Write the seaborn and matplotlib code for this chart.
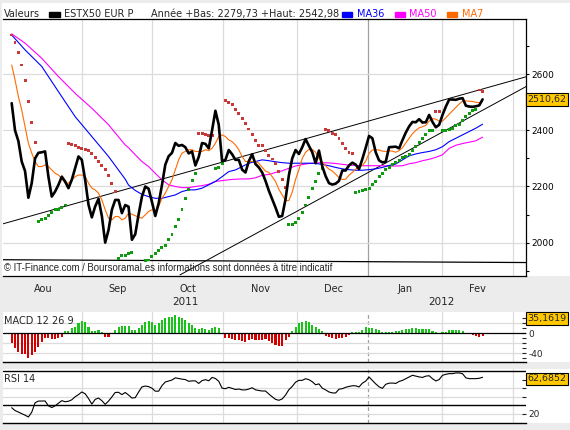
import numpy as np
import pandas as pd
import matplotlib
matplotlib.use("Agg")
import matplotlib.pyplot as plt
import matplotlib.transforms as mtransforms
from matplotlib.patches import Rectangle
import seaborn as sns

# ESTX50 daily close, Aug 2011 -> Feb 2012 (one value per trading day)
close = [2497, 2400, 2362, 2289, 2255, 2160, 2212, 2300, 2320, 2322,
         2325, 2235, 2164, 2182, 2206, 2235, 2218, 2194, 2224, 2265,
         2307, 2295, 2224, 2135, 2090, 2129, 2156, 2095, 2000, 2045,
         2117, 2152, 2152, 2105, 2134, 2128, 2010, 2030, 2100, 2164,
         2200, 2192, 2145, 2095, 2140, 2205, 2278, 2308, 2320, 2355,
         2345, 2348, 2340, 2318, 2325, 2275, 2305, 2355, 2352, 2336,
         2400, 2470, 2420, 2290, 2295, 2330, 2315, 2295, 2295, 2260,
         2250, 2290, 2315, 2280, 2268, 2250, 2220, 2185, 2155, 2125,
         2092, 2095, 2155, 2240, 2300, 2330, 2316, 2340, 2369, 2345,
         2322, 2283, 2328, 2272, 2237, 2212, 2207, 2210, 2220, 2257,
         2257, 2275, 2285, 2278, 2262, 2298, 2338, 2380, 2372, 2322,
         2293, 2286, 2288, 2340, 2341, 2342, 2336, 2365, 2392, 2414,
         2430, 2429, 2440, 2428, 2429, 2455, 2430, 2411, 2420, 2455,
         2485, 2510, 2510, 2509, 2513, 2515, 2488, 2485, 2484, 2486,
         2489, 2510.62]

ma7 = [2633, 2580, 2521, 2473, 2414, 2354, 2319, 2289, 2271, 2271,
       2277, 2271, 2259, 2247, 2241, 2229, 2212, 2212, 2224, 2235,
       2241, 2241, 2235, 2212, 2194, 2188, 2176, 2152, 2117, 2087,
       2081, 2093, 2093, 2081, 2087, 2105, 2101, 2096, 2090, 2087,
       2099, 2111, 2117, 2114, 2129, 2158, 2176, 2200, 2224, 2259,
       2295, 2319, 2325, 2331, 2331, 2325, 2325, 2325, 2331, 2328,
       2336, 2354, 2378, 2384, 2378, 2366, 2360, 2348, 2331, 2307,
       2289, 2289, 2289, 2289, 2283, 2268, 2255, 2250, 2235, 2218,
       2190, 2170, 2150, 2150, 2180, 2225, 2260, 2300, 2322, 2332,
       2332, 2322, 2300, 2287, 2274, 2262, 2255, 2244, 2232, 2225,
       2226, 2240, 2250, 2262, 2270, 2275, 2290, 2318, 2330, 2331,
       2330, 2326, 2325, 2327, 2326, 2322, 2328, 2338, 2355, 2372,
       2388, 2400, 2409, 2413, 2418, 2433, 2442, 2440, 2433, 2433,
       2445, 2458, 2470, 2482, 2494, 2504, 2505, 2504, 2503, 2500,
       2499, 2503]

ma_days = [0, 4, 9, 14, 19, 24, 29, 34] + list(range(35, 142, 2))
ma36 = [2740, 2687, 2628, 2538, 2449, 2378, 2307, 2226,
        2205, 2186, 2172, 2164, 2158, 2158, 2164, 2170, 2182, 2188,
        2188, 2194, 2206, 2218, 2235, 2253, 2259, 2271, 2283, 2289,
        2295, 2292, 2288, 2285, 2283, 2283, 2283, 2283, 2282, 2279,
        2274, 2268, 2263, 2260, 2258, 2258, 2260, 2263, 2268, 2275,
        2280, 2295, 2309, 2316, 2321, 2325, 2331, 2342, 2360, 2372,
        2384, 2396, 2408, 2422]
ma50 = [2744, 2711, 2657, 2592, 2532, 2479, 2420, 2348,
        2338, 2313, 2289, 2271, 2247, 2224, 2206, 2200, 2196, 2196,
        2200, 2203, 2208, 2218, 2221, 2224, 2226, 2227, 2227, 2231,
        2240, 2243, 2250, 2256, 2265, 2273, 2278, 2282, 2284, 2285,
        2284, 2282, 2279, 2276, 2275, 2274, 2274, 2274, 2274, 2273,
        2273, 2274, 2281, 2285, 2292, 2297, 2304, 2313, 2336, 2347,
        2353, 2358, 2363, 2376]

# parabolic SAR, R = above price (red), G = below price (green)
nan = np.nan
sar = [2740, 2713, 2679, 2633, 2577, 2502, 2429, 2358,
       2075, 2081, 2087, 2095, 2107, 2117, 2117, 2126, 2134,
       2354, 2350, 2345, 2340, 2336, 2333, 2328, 2319, 2304, 2289, 2275, 2259, 2239, 2212, 2182,
       1944, 1953, 1955, 1960, 1966,
       nan, nan, nan,
       1936, 1938, 1950, 1962, 1972, 1983, 1991, 2010, 2030, 2057, 2083, 2119, 2158, 2188, 2221, 2247,
       2390, 2390, 2386, 2382, 2382,
       2265, 2269, 2281,
       2505, 2500, 2491, 2475, 2461, 2441, 2426, 2405, 2384, 2364,
       2345, 2345, 2327, 2310, 2298, 2281, 2253, 2226, 2197,
       2063, 2063, 2071, 2087, 2108, 2134, 2162, 2194, 2218, 2245, 2265,
       2402, 2398, 2390, 2384, 2372, 2354, 2336, 2321, 2319,
       2180, 2182, 2186, 2188, 2194, 2206, 2218, 2235, 2247, 2259, 2269, 2277,
       2285, 2292, 2303, 2307, 2313, 2327, 2342, 2357, 2372, 2386, 2398, 2398,
       2466, 2466,
       2398, 2398, 2402, 2408, 2416, 2422, 2434, 2449, 2459, 2471, 2475,
       2544, 2540]
sar_runs = [("R", 8), ("G", 9), ("R", 15), ("G", 5), ("-", 3), ("G", 16), ("R", 5),
            ("G", 3), ("R", 19), ("G", 11), ("R", 9), ("G", 24), ("R", 2),
            ("G", 11), ("R", 2)]

macd_hist = [-20, -30, -37, -42, -42, -50, -43, -37, -27, -17,
             -10, -10, -12, -12, -9, -7, 5, 5, 10, 13,
             20, 25, 22, 13, 5, 5, 7, 3, -7, -7,
             -2, 7, 13, 15, 15, 15, 7, 7, 10, 17,
             23, 25, 23, 17, 20, 27, 30, 32, 33, 37,
             33, 30, 27, 20, 17, 10, 9, 10, 8, 7,
             10, 13, 11, -2, -9, -10, -12, -13, -13, -15,
             -18, -13, -12, -13, -13, -13, -12, -15, -20, -23,
             -25, -25, -13, -7, 5, 13, 20, 23, 25, 22,
             17, 13, 9, 5, -5, -7, -10, -11, -10, -9,
             -7, -3, 2, 2, 3, 6, 13, 11, 10, 9,
             7, 2, 3, 3, 3, 5, 5, 7, 8, 9,
             10, 10, 9, 8, 8, 9, 5, 3, 1, 3,
             3, 7, 7, 7, 7, 5, 0, -2, -3, -5,
             -7, -5]

rsi = [27.3, 24.0, 22.2, 20.3, 18.6, 16.5, 22.0, 33.0, 35.0, 35.1,
       35.1, 29.5, 27.5, 29.5, 32.5, 35.5, 34.2, 34.8, 36.5, 40.0,
       42.5, 45.6, 43.5, 38.0, 31.5, 37.0, 38.5, 35.5, 31.2, 35.0,
       39.8, 45.0, 45.2, 42.5, 45.0, 42.0, 38.5, 39.0, 45.5, 51.5,
       52.5, 51.8, 50.0, 46.5, 46.5, 53.0, 57.2, 58.3, 59.5, 62.0,
       61.2, 60.5, 60.0, 58.0, 58.5, 58.5, 55.5, 58.8, 59.9, 58.6,
       62.5, 61.3, 58.0, 50.0, 49.4, 51.0, 49.8, 48.5, 49.0, 48.0,
       48.0, 49.0, 50.5, 48.1, 47.3, 46.7, 46.7, 43.2, 40.0, 37.0,
       35.9, 37.5, 42.0, 48.3, 52.0, 57.0, 59.1, 59.1, 61.0, 59.9,
       57.5, 54.0, 55.0, 50.0, 48.0, 45.6, 44.5, 44.4, 48.8, 49.4,
       51.0, 52.0, 52.8, 52.8, 51.4, 55.8, 58.2, 63.0, 59.0, 55.0,
       51.6, 49.8, 54.5, 55.8, 56.0, 55.5, 57.8, 59.0, 61.0, 63.0,
       65.0, 64.0, 63.1, 62.5, 64.0, 64.5, 61.0, 58.4, 60.0, 65.0,
       66.1, 66.9, 66.9, 67.7, 67.7, 66.8, 62.0, 61.1, 61.1, 61.1,
       61.5, 62.7]

# hand drawn trend lines (day, value at both ends)
trend_days = [-2.6, 154.0]
upper_trend = [2067, 2591]
floor_trend = [1939, 1929]
lower_days = [50.4, 154.0]
lower_trend = [1885, 2556]

months = ["Aou", "Sep", "Oct", "Nov", "Dec", "Jan", "Fev"]
month_mid = [9.5, 31.6, 52.8, 74.6, 96.3, 117.8, 139.5]
month_edge = [21.05, 42.0, 63.3, 85.4, 106.7, 128.8, 150.1]
years = ["2011", "2012"]
year_pos = [51.9, 128.7]

last_close = "2510,62"
last_macd = "35,1619"
last_rsi = "62,6852"

# ---------------------------------------------------------------
sns.set_style("white")
plt.rcParams["font.family"] = ["DejaVu Sans"]

W, H = 570, 430
fig = plt.figure(figsize=(W / 100, H / 100), dpi=100, facecolor="#ececec")


def fx(px):
    return px / W


def fy(py):
    return 1 - py / H


def white_box(x0, y0, x1, y1):
    fig.patches.append(Rectangle((fx(x0), fy(y1)), (x1 - x0) / W, (y1 - y0) / H,
                                 transform=fig.transFigure, facecolor="white",
                                 edgecolor="none", zorder=-5))


white_box(2, 3, 570, 276)
white_box(3, 312, 570, 362)
white_box(3, 369, 570, 423)

main = fig.add_axes([fx(3), fy(276), 523 / W, 257 / H])
macd_ax = fig.add_axes([fx(3), fy(362), 523 / W, 50 / H])
rsi_ax = fig.add_axes([fx(3), fy(423), 523 / W, 54 / H])

XL = (-2.6, 154.0)
grid_c = "#dcdcdc"
days = np.arange(len(close))

for ax in (main, macd_ax, rsi_ax):
    ax.set_xlim(*XL)
    ax.set_facecolor("white")
    for s in ax.spines.values():
        s.set_visible(False)
    for k, e in enumerate(month_edge):
        if k == 4:
            ax.axvline(e, color="#a0a0a0", lw=0.9, zorder=0,
                       ls="-" if ax is main else (0, (3, 2)))
        else:
            ax.axvline(e, color=grid_c, lw=0.9, zorder=0)

# ---------------- main price panel ----------------
main.set_ylim(1881, 2797)
for v in [2000, 2200, 2400, 2600]:
    main.axhline(v, color=grid_c, lw=0.9, zorder=0)

main.plot(trend_days, upper_trend, color="black", lw=0.7, zorder=2)
main.plot(trend_days, floor_trend, color="black", lw=0.9, zorder=2)
main.plot(lower_days, lower_trend, color="black", lw=0.7, zorder=2)

sns.lineplot(x=ma_days, y=ma50, ax=main, color="#ff00ff", lw=0.8, zorder=3)
sns.lineplot(x=ma_days, y=ma36, ax=main, color="#0000ff", lw=0.8, zorder=3)
sns.lineplot(x=days, y=ma7, ax=main, color="#ff6a00", lw=0.8, zorder=3)

side = [c for c, n in sar_runs for _ in range(n)]
sar_df = pd.DataFrame({"day": list(range(len(sar))), "sar": sar})
sar_df["side"] = (side + ["-"] * len(sar))[:len(sar)]
sar_df = sar_df[sar_df["side"] != "-"].dropna()
sns.scatterplot(data=sar_df, x="day", y="sar", hue="side", ax=main,
                palette={"R": "#c83a3a", "G": "#109a10"}, marker="s", s=4.5,
                linewidth=0, legend=False, zorder=4)

sns.lineplot(x=days, y=close, ax=main, color="black", lw=1.9, zorder=5)

for s in ("top", "right", "bottom"):
    main.spines[s].set_visible(True)
    main.spines[s].set_color("black")
    main.spines[s].set_linewidth(0.9)

main.yaxis.tick_right()
main.set_yticks([2000, 2200, 2400, 2600])
main.set_yticklabels(["2000", "2200", "2400", "2600"])
main.set_yticks([1900, 2100, 2300, 2500, 2700], minor=True)
main.tick_params(axis="y", which="both", direction="out", length=2.5,
                 width=0.8, pad=1, labelsize=6.5, colors="black")
main.set_xticks(month_edge)
main.set_xticklabels([])
main.set_xticks(month_mid, minor=True)
main.set_xticklabels(months, minor=True)
main.tick_params(axis="x", which="major", direction="out", length=3, width=0.8)
main.tick_params(axis="x", which="minor", length=0, pad=6, labelsize=7)
main.set_xlabel("")
main.set_ylabel("")

yr_tr = mtransforms.blended_transform_factory(main.transData, fig.transFigure)
for yl, xp in zip(years, year_pos):
    main.text(xp, fy(302), yl, transform=yr_tr, ha="center", va="center",
              fontsize=7.5, clip_on=False)

side_tr = mtransforms.blended_transform_factory(main.transAxes, main.transData)
main.text(1.003, 2510.62, last_close, transform=side_tr, ha="left", va="center",
          fontsize=6.8, clip_on=False,
          bbox=dict(boxstyle="square,pad=0.18", fc="#ffc800", ec="black", lw=0.8))

fig.text(fx(4), fy(268), "\u00a9 IT-Finance.com / BoursoramaLes informations sont donn\u00e9es \u00e0 titre indicatif",
         fontsize=6.9, family="Liberation Sans", va="center", ha="left")

# header line
fig.text(fx(4), fy(14), "Valeurs", fontsize=7, va="center")
fig.patches.append(Rectangle((fx(49), fy(16.7)), 11 / W, 4.5 / H,
                             transform=fig.transFigure, color="black"))
fig.text(fx(64), fy(14), "ESTX50 EUR P", fontsize=7, va="center")
fig.text(fx(150.7), fy(14), "Ann\u00e9e +Bas: 2279,73 +Haut: 2542,98", fontsize=7, va="center")
for x0, name, col, tx in [(341.7, "MA36", "#0000ff", 356.7),
                          (395.0, "MA50", "#ff00ff", 409.3),
                          (446.7, "MA7", "#ff6a00", 461.7)]:
    fig.patches.append(Rectangle((fx(x0), fy(16.7)), 10.5 / W, 4.5 / H,
                                 transform=fig.transFigure, color=col))
    fig.text(fx(tx), fy(14), name, fontsize=7, va="center", color=col)

# ---------------- MACD panel ----------------
bar_cols = ["#19c319" if v >= 0 else "#d40000" for v in macd_hist]
macd_ax.bar(np.arange(len(macd_hist)), macd_hist, width=0.62, color=bar_cols,
            linewidth=0, edgecolor="none", zorder=2)
macd_ax.set_ylim(-57.4, 42.6)
for v in [20, -20, -40]:
    macd_ax.axhline(v, color=grid_c, lw=0.9, zorder=0)
macd_ax.axhline(0, color="black", lw=0.9, zorder=3)
macd_ax.spines["bottom"].set_visible(True)
macd_ax.spines["bottom"].set_color("black")
macd_ax.spines["bottom"].set_linewidth(1.0)
macd_ax.yaxis.tick_right()
macd_ax.set_yticks([-50, -40, -30, -20, -10, 0, 10, 20, 30])
macd_ax.set_yticklabels(["", "-40", "", "", "", "0", "", "", ""])
macd_ax.tick_params(axis="y", direction="in", length=3, width=0.8, pad=1.5, labelsize=6.5)
macd_ax.set_xticks([])
fig.text(fx(4), fy(321), "MACD 12 26 9", fontsize=7, va="center")
macd_ax.text(1.003, 0.874, last_macd, transform=macd_ax.transAxes, ha="left",
             va="center", fontsize=6.8, clip_on=False,
             bbox=dict(boxstyle="square,pad=0.18", fc="#ffc800", ec="black", lw=0.8))

# ---------------- RSI panel ----------------
sns.lineplot(x=np.arange(len(rsi)), y=rsi, ax=rsi_ax, color="black", lw=0.8, zorder=3)
rsi_ax.set_ylim(9.5, 72.3)
for v in [20, 40, 50]:
    rsi_ax.axhline(v, color=grid_c, lw=0.9, zorder=0)
for v in [30, 70]:
    rsi_ax.axhline(v, color="black", lw=1.0, zorder=2)
rsi_ax.spines["bottom"].set_visible(True)
rsi_ax.spines["bottom"].set_color("black")
rsi_ax.spines["bottom"].set_linewidth(1.0)
rsi_ax.yaxis.tick_right()
rsi_ax.set_yticks([20, 40, 50, 60])
rsi_ax.set_yticklabels(["20", "", "", ""])
rsi_ax.tick_params(axis="y", direction="in", length=3, width=0.8, pad=1.5, labelsize=6.5)
rsi_ax.set_xticks([])
rsi_ax.set_xlabel("")
rsi_ax.set_ylabel("")
fig.text(fx(4), fy(379), "RSI 14", fontsize=7, va="center")
rsi_ax.text(1.003, 0.815, last_rsi, transform=rsi_ax.transAxes, ha="left",
            va="center", fontsize=6.8, clip_on=False,
            bbox=dict(boxstyle="square,pad=0.18", fc="#ffc800", ec="black", lw=0.8))

fig.savefig("out.png", dpi=100, facecolor=fig.get_facecolor())
